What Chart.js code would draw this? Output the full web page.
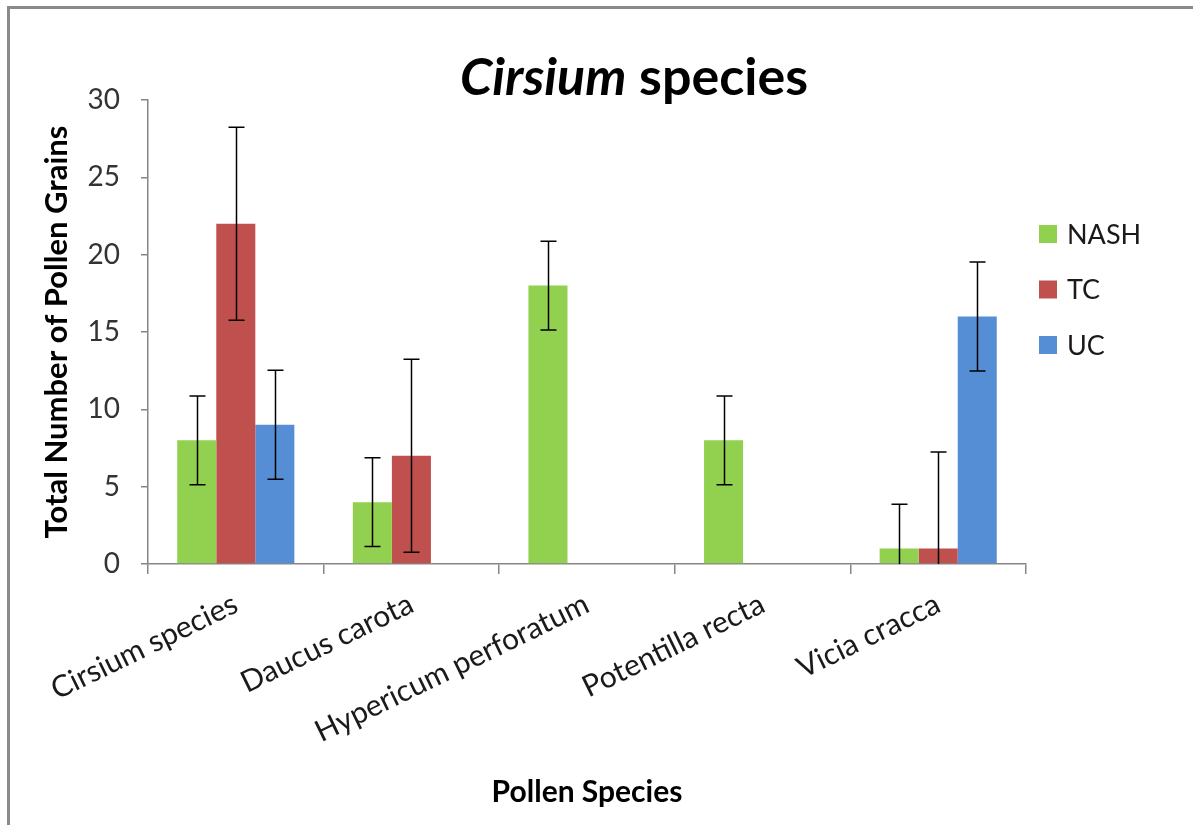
<!DOCTYPE html>
<html>
<head>
<meta charset="utf-8">
<script src="https://cdn.jsdelivr.net/npm/chart.js@4"></script>
<style>
  html, body { margin: 0; padding: 0; background: #fff; }
  #wrap { width: 1193px; height: 825px; position: relative; }
</style>
</head>
<body>
<div id="wrap"><canvas id="pollenChart" width="1193" height="825"></canvas></div>
<script>
// chart data
const categories = ['Cirsium species', 'Daucus carota', 'Hypericum perforatum', 'Potentilla recta', 'Vicia cracca'];
const seriesNames = ['NASH', 'TC', 'UC'];
const nashValues = [8, 4, 18, 8, 1];
const tcValues = [22, 7, 0, 0, 1];
const ucValues = [9, 0, 0, 0, 16];
// error bar half-widths
const nashErr = [2.87, 2.87, 2.87, 2.87, 2.87];
const tcErr = [6.24, 6.24, 0, 0, 6.24];
const ucErr = [3.52, 0, 0, 0, 3.52];
const yTicks = [0, 5, 10, 15, 20, 25, 30];

const FONT = 'Lato, "Open Sans", sans-serif';
const AXIS_GRAY = '#868686';

// frame + title drawn before everything else
const framePlugin = {
    id: 'frame',
    beforeDraw(chart) {
        const ctx = chart.ctx;
        ctx.save();
        ctx.fillStyle = '#fff';
        ctx.fillRect(0, 0, chart.width, chart.height);
        ctx.strokeStyle = '#8a8a8a';
        ctx.lineWidth = 3;
        ctx.strokeRect(8.5, 7.5, 1400, 1000);

        // title: "Cirsium" in italics, " species" upright
        const part1 = 'Cirsium';
        const part2 = ' species';
        ctx.fillStyle = '#000';
        ctx.textBaseline = 'alphabetic';
        ctx.font = 'italic bold 52px ' + FONT;
        const w1 = ctx.measureText(part1).width;
        ctx.font = 'bold 52px ' + FONT;
        const w2 = ctx.measureText(part2).width;
        const cx = 634;
        let x = cx - (w1 + w2) / 2;
        ctx.font = 'italic bold 52px ' + FONT;
        ctx.fillText(part1, x, 95);
        ctx.font = 'bold 52px ' + FONT;
        ctx.fillText(part2, x + w1, 95);
        ctx.restore();
    }
};

// error bars from the err arrays, using the chart's own scales
const errorBarPlugin = {
    id: 'errorBars',
    afterDatasetsDraw(chart) {
        const ctx = chart.ctx;
        const yScale = chart.scales.y;
        const capHalf = 8;
        ctx.save();
        ctx.strokeStyle = '#000';
        ctx.lineWidth = 1.5;
        chart.data.datasets.forEach((ds, di) => {
            const meta = chart.getDatasetMeta(di);
            meta.data.forEach((bar, i) => {
                const v = ds.data[i];
                const e = ds.errors[i];
                if (!e) return;
                const hi = v + e;
                const lo = v - e;
                const yHi = yScale.getPixelForValue(hi);
                const yLo = yScale.getPixelForValue(Math.max(lo, 0));
                const x = Math.round(bar.x) + 0.5;
                ctx.beginPath();
                ctx.moveTo(x, yHi);
                ctx.lineTo(x, yLo);
                ctx.moveTo(x - capHalf, yHi);
                ctx.lineTo(x + capHalf, yHi);
                if (lo >= 0) {
                    ctx.moveTo(x - capHalf, yLo);
                    ctx.lineTo(x + capHalf, yLo);
                }
                ctx.stroke();
            });
        });
        ctx.restore();
    }
};

// legend at the right, Excel style
const sideLegendPlugin = {
    id: 'sideLegend',
    afterDraw(chart) {
        const ctx = chart.ctx;
        ctx.save();
        ctx.font = '27px ' + FONT;
        ctx.textBaseline = 'middle';
        chart.data.datasets.forEach((ds, i) => {
            const top = 225 + i * 55.5;
            ctx.fillStyle = ds.backgroundColor;
            ctx.fillRect(1039, top, 18, 18);
            ctx.fillStyle = '#1a1a1a';
            ctx.fillText(ds.label, 1067, top + 10);
        });
        ctx.restore();
    }
};

const ctx = document.getElementById('pollenChart').getContext('2d');
const pollenChart = new Chart(ctx, {
    type: 'bar',
    data: {
        labels: categories,
        datasets: [
            { label: seriesNames[0], data: nashValues, errors: nashErr, backgroundColor: '#92D050' },
            { label: seriesNames[1], data: tcValues, errors: tcErr, backgroundColor: '#C0504D' },
            { label: seriesNames[2], data: ucValues, errors: ucErr, backgroundColor: '#558ED5' }
        ]
    },
    options: {
        responsive: false,
        animation: false,
        layout: {
            padding: { top: 100, right: 167, bottom: 0, left: 0 }
        },
        datasets: {
            bar: {
                categoryPercentage: 0.667,
                barPercentage: 1.0,
                borderWidth: 0
            }
        },
        plugins: {
            legend: { display: false },
            title: { display: false },
            tooltip: { enabled: false }
        },
        scales: {
            x: {
                offset: true,
                grid: {
                    offset: true,
                    drawOnChartArea: false,
                    drawTicks: true,
                    tickLength: 10,
                    color: AXIS_GRAY,
                    lineWidth: 1.5
                },
                border: { display: true, color: AXIS_GRAY, width: 1.5 },
                ticks: {
                    color: '#1a1a1a',
                    font: { family: FONT, size: 30 },
                    minRotation: 26,
                    maxRotation: 26,
                    padding: 12,
                    autoSkip: false
                },
                title: {
                    display: true,
                    text: 'Pollen Species',
                    color: '#000',
                    font: { family: FONT, size: 30, weight: 'bold' },
                    padding: { top: 15, bottom: 15 }
                },
                afterFit(scale) { scale.height = 261; }
            },
            y: {
                min: 0,
                max: 30,
                afterBuildTicks(scale) {
                    scale.ticks = yTicks.map(v => ({ value: v }));
                },
                grid: {
                    drawOnChartArea: false,
                    drawTicks: true,
                    tickLength: 7,
                    color: AXIS_GRAY,
                    lineWidth: 1.5
                },
                border: { display: true, color: AXIS_GRAY, width: 1.5 },
                ticks: {
                    color: '#333',
                    font: { family: FONT, size: 28 },
                    padding: 21
                },
                title: {
                    display: true,
                    text: 'Total Number of Pollen Grains',
                    color: '#000',
                    font: { family: FONT, size: 31, weight: 'bold' },
                    padding: { top: 38, bottom: 0 }
                },
                afterFit(scale) { scale.width = 148; }
            }
        }
    },
    plugins: [framePlugin, errorBarPlugin, sideLegendPlugin]
});
</script>
</body>
</html>
